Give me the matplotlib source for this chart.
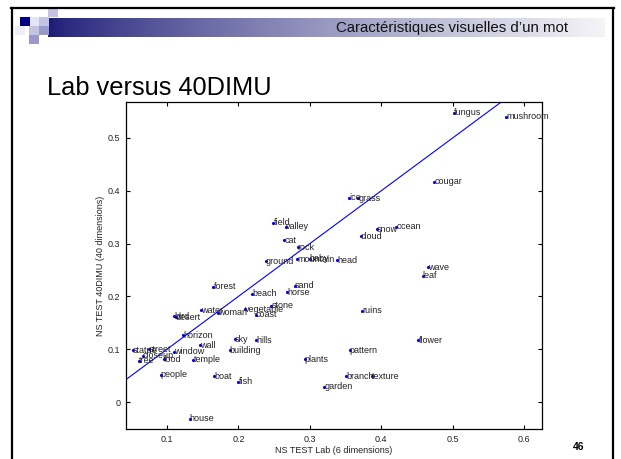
import numpy as np
import matplotlib
matplotlib.use("Agg")
import matplotlib.pyplot as plt
from matplotlib.patches import Rectangle

plt.rcParams['font.family'] = ['Liberation Sans', 'DejaVu Sans']

# --- data ---
words = ["fungus", "mushroom", "cougar", "ice", "grass", "field", "valley",
         "snow", "ocean", "cloud", "cat", "rock", "ground", "mountain", "baby",
         "head", "wave", "leaf", "forest", "sand", "beach", "horse", "stone",
         "vegetable", "coast", "water", "woman", "bird", "desert", "ruins",
         "horizon", "wall", "sky", "hills", "flower", "statue", "street",
         "closeup", "window", "building", "pattern", "tree", "food", "temple",
         "plants", "people", "boat", "branch", "texture", "fish", "garden",
         "house"]
lab_x = [0.502, 0.575, 0.474, 0.355, 0.368, 0.249, 0.266,
         0.394, 0.421, 0.371, 0.264, 0.283, 0.238, 0.282, 0.300,
         0.338, 0.465, 0.458, 0.165, 0.279, 0.219, 0.268, 0.246,
         0.209, 0.224, 0.148, 0.172, 0.110, 0.112, 0.373,
         0.123, 0.146, 0.195, 0.225, 0.452, 0.052, 0.075,
         0.066, 0.110, 0.188, 0.356, 0.061, 0.096, 0.137,
         0.293, 0.091, 0.166, 0.351, 0.387, 0.200, 0.320,
         0.132]
dimu_y = [0.548, 0.540, 0.417, 0.387, 0.386, 0.339, 0.332,
          0.327, 0.332, 0.314, 0.306, 0.293, 0.267, 0.270, 0.271,
          0.268, 0.255, 0.239, 0.218, 0.220, 0.205, 0.208, 0.182,
          0.176, 0.165, 0.174, 0.169, 0.162, 0.161, 0.173,
          0.126, 0.108, 0.119, 0.117, 0.117, 0.098, 0.100,
          0.088, 0.095, 0.098, 0.098, 0.078, 0.081, 0.080,
          0.081, 0.052, 0.049, 0.049, 0.049, 0.038, 0.029,
          -0.032]

x_ticks = [0.1, 0.2, 0.3, 0.4, 0.5, 0.6]
y_ticks = [0, 0.1, 0.2, 0.3, 0.4, 0.5]
xlim = (0.0426, 0.625)
ylim = (-0.051, 0.568)

W, H = 621, 459
fig = plt.figure(figsize=(W / 100, H / 100), dpi=100)
fig.patch.set_facecolor("white")

# --- slide decoration, drawn in pixel coordinates ---
bg = fig.add_axes([0, 0, 1, 1])
bg.set_xlim(0, W)
bg.set_ylim(H, 0)
bg.axis("off")

# header gradient bar
c0 = np.array([0.11, 0.11, 0.47])
c1 = np.array([0.96, 0.96, 0.97])
t = np.linspace(0, 1, 256)[None, :, None]
grad = c0 + (c1 - c0) * t ** 0.8
bg.imshow(grad, extent=[48, 605, 37, 18], aspect="auto", zorder=1)

# small squares at the left of the header
squares = [
    (48, 8, "#c4c4e2"),
    (20, 17, "#000080"), (30, 17, "#e4e4f2"), (39, 17, "#c4c4e2"),
    (15, 26, "#eeeef6"), (29, 26, "#c4c4e2"), (39, 26, "#9999cc"),
    (29, 35, "#9999cc"),
]
for sx, sy, col in squares:
    bg.add_patch(Rectangle((sx, sy), 9.5, 9, facecolor=col, edgecolor="none", zorder=2))

# slide frame
bg.plot([11, 614], [8, 8], color="black", lw=1.6, zorder=3)
bg.plot([12, 12], [8, H], color="black", lw=1.6, zorder=3)
bg.plot([613, 613], [8, H], color="black", lw=1.6, zorder=3)

bg.text(568, 28, "Caractéristiques visuelles d\u2019un mot", ha="right", va="center",
        fontsize=10.8, color="#111111", zorder=4)
bg.text(47, 88, "Lab versus 40DIMU", ha="left", va="center", fontsize=18.3, color="black")
bg.text(579, 447, "46", ha="center", va="center", fontsize=7.5, fontweight="bold")

# --- the scatter plot ---
ax = fig.add_axes([126 / W, 1 - 429 / H, (542 - 126) / W, (429 - 102) / H])
ax.plot(lab_x, dimu_y, linestyle="none", marker=".", markersize=2.5, color="blue")
for w, x, y in zip(words, lab_x, dimu_y):
    ax.text(x, y, w, ha="left", va="center", fontsize=6.5, color="#222222")

# y = x reference line
ax.plot(xlim, xlim, color="blue", lw=0.8)

ax.set_xlim(xlim)
ax.set_ylim(ylim)
ax.set_xticks(x_ticks)
ax.set_yticks(y_ticks)
ax.set_xticklabels([f"{v:g}" for v in x_ticks])
ax.set_yticklabels([f"{v:g}" for v in y_ticks])
ax.tick_params(direction="in", top=True, right=True, length=3, width=0.8,
               labelsize=6.5, labelcolor="#222222", pad=4)
for s in ax.spines.values():
    s.set_linewidth(0.9)
ax.set_xlabel("NS TEST Lab (6 dimensions)", fontsize=6.5, color="#222222", labelpad=2)
ax.set_ylabel("NS TEST 40DIMU (40 dimensions)", fontsize=6.5, color="#222222", labelpad=2)

fig.savefig("out.png", dpi=100)
